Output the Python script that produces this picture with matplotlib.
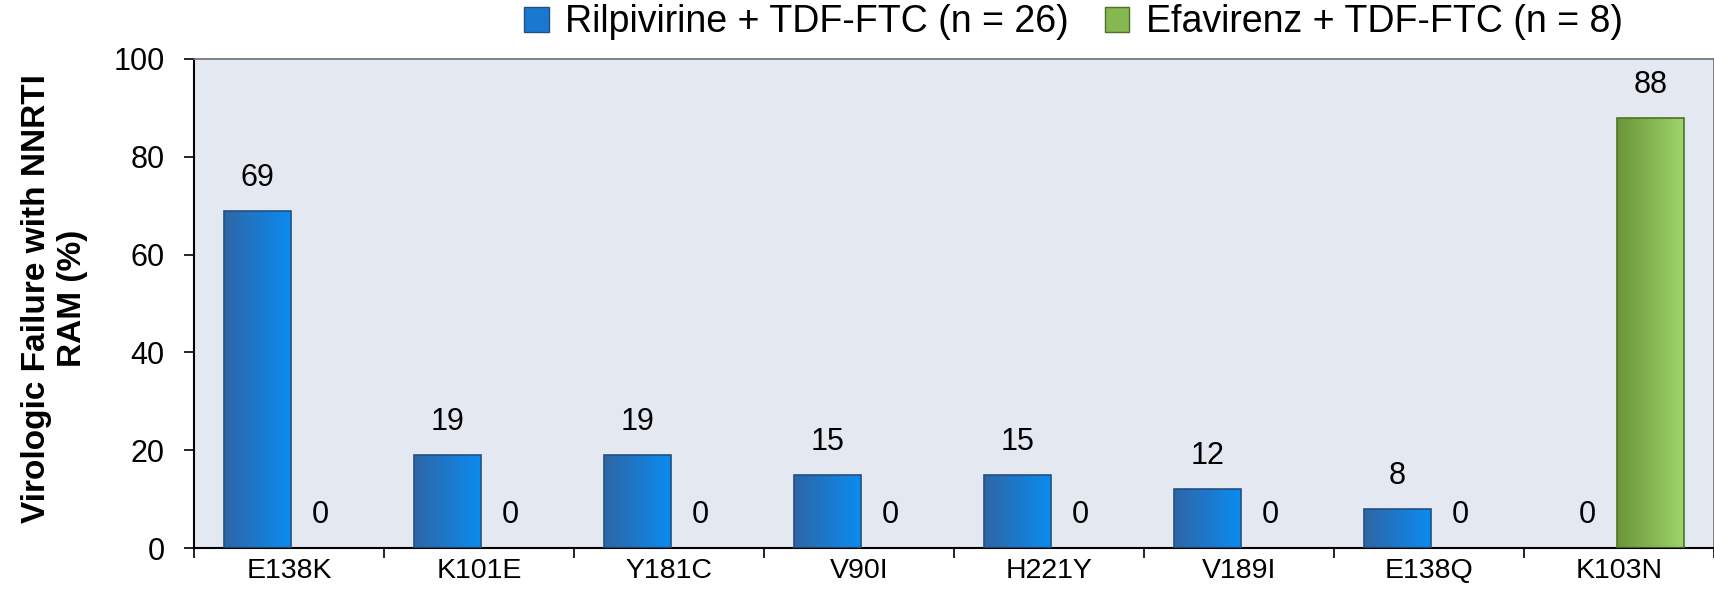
import numpy as np
import matplotlib
matplotlib.use("Agg")
import matplotlib.pyplot as plt
from matplotlib.colors import LinearSegmentedColormap
from matplotlib.patches import Patch

categories = ["E138K", "K101E", "Y181C", "V90I", "H221Y", "V189I", "E138Q", "K103N"]
rilpivirine = [69, 19, 19, 15, 15, 12, 8, 0]
efavirenz = [0, 0, 0, 0, 0, 0, 0, 88]
series_names = ["Rilpivirine + TDF-FTC (n = 26)", "Efavirenz + TDF-FTC (n = 8)"]
y_ticks = [0, 20, 40, 60, 80, 100]

plt.rcParams['font.family'] = ['Liberation Sans', 'DejaVu Sans']

fig = plt.figure(figsize=(17.15, 5.91), dpi=100)
ax = fig.add_axes([194/1715, 43/591, 1520/1715, 489/591])
ax.set_facecolor("#E4E9F1")

x = np.arange(len(categories))
w = 0.35
off = 0.167
blue_cols = ("#2E66A6", "#0B8BF0")
green_cols = ("#6A9537", "#9FD46B")

b1 = ax.bar(x - off, rilpivirine, w, facecolor="none", edgecolor="#24507F", linewidth=1.2, zorder=3)
b2 = ax.bar(x + off, efavirenz, w, facecolor="none", edgecolor="#4F7028", linewidth=1.2, zorder=3)

grad = np.linspace(0, 1, 256).reshape(1, -1)
for bars, cols in ((b1, blue_cols), (b2, green_cols)):
    cmap = LinearSegmentedColormap.from_list("g", list(cols))
    for p in bars:
        h = p.get_height()
        if h <= 0:
            p.set_edgecolor("none")
            continue
        x0, y0, ww = p.get_x(), p.get_y(), p.get_width()
        im = ax.imshow(grad, extent=[x0, x0 + ww, y0, y0 + h], aspect="auto",
                       cmap=cmap, zorder=2, interpolation="bilinear")
        im.set_clip_path(p)

for bars, vals in ((b1, rilpivirine), (b2, efavirenz)):
    for p, v in zip(bars, vals):
        ax.annotate(f"{v}", (p.get_x() + p.get_width() / 2, v), xytext=(0, 18),
                    textcoords="offset points", ha="center", va="baseline",
                    fontsize=22, color="black", zorder=5)

ax.set_xlim(-0.5, len(categories) - 0.5)
ax.set_ylim(0, 100)
ax.set_yticks(y_ticks)
ax.set_yticklabels([str(t) for t in y_ticks], fontsize=22)
ax.tick_params(axis="y", direction="out", length=7, width=1.2, pad=14, color="black")

ax.set_xticks(np.arange(-0.5, len(categories), 1.0))
ax.set_xticklabels([])
ax.tick_params(axis="x", which="major", direction="out", length=7, width=1.2)
ax.set_xticks(x, minor=True)
ax.set_xticklabels(categories, minor=True, fontsize=20.5)
ax.tick_params(axis="x", which="minor", length=0, pad=7)

for s in ("left", "bottom"):
    ax.spines[s].set_color("black")
    ax.spines[s].set_linewidth(1.5)
for s in ("top", "right"):
    ax.spines[s].set_color("#6E6E6E")
    ax.spines[s].set_linewidth(1.2)

ax.set_ylabel("Virologic Failure with NNRTI\nRAM (%)", fontsize=24, fontweight="bold",
              linespacing=1.2)
ax.yaxis.set_label_coords(-0.070, 0.51)

handles = [Patch(facecolor="#1A78D0", edgecolor="#24507F"),
           Patch(facecolor="#86B852", edgecolor="#4F7028")]
fig.legend(handles, series_names, loc="center", bbox_to_anchor=(0.626, 0.962), ncol=2,
           frameon=False, fontsize=27, handlelength=0.65,
           handleheight=0.65, handletextpad=0.45, columnspacing=0.95)

fig.savefig("out.png", dpi=100)
